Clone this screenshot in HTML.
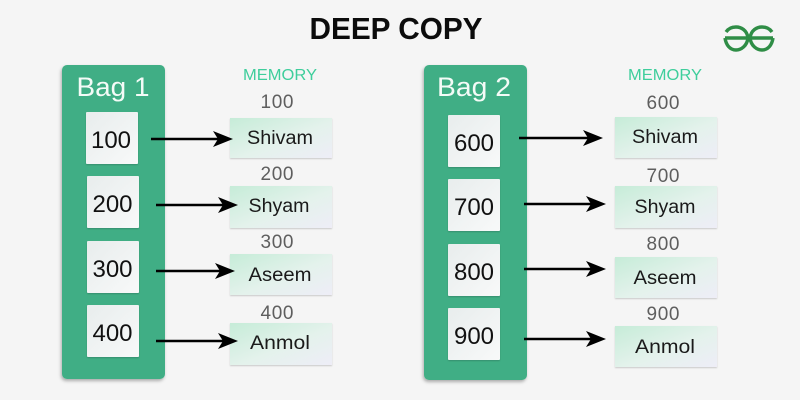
<!DOCTYPE html>
<html>
<head>
<meta charset="utf-8">
<style>
html,body{margin:0;padding:0;background:#f5f5f5;}
svg{display:block;}
text{font-family:"Liberation Sans",sans-serif;text-anchor:middle;}
.t{font-size:31px;font-weight:bold;fill:#0c0c0c;}
.bag{font-size:27px;fill:#f4fbf7;}
.mem{font-size:16px;fill:#3fce9c;}
.addr{font-size:19px;fill:#5e5e5e;}
.val{font-size:19px;fill:#1a1a1a;}
.num{font-size:24px;fill:#111;}
</style>
</head>
<body>
<svg width="800" height="400" viewBox="0 0 800 400" xmlns="http://www.w3.org/2000/svg">
<defs>
<linearGradient id="m" x1="0" y1="0" x2="1" y2="1">
<stop offset="0" stop-color="#c6ecd8"/><stop offset="0.55" stop-color="#e4f2ec"/><stop offset="1" stop-color="#eeedf7"/>
</linearGradient>
<linearGradient id="b" x1="0" y1="0" x2="1" y2="1">
<stop offset="0" stop-color="#e8eded"/><stop offset="1" stop-color="#f8f9f9"/>
</linearGradient>
<filter id="s" x="-10%" y="-10%" width="120%" height="120%"><feDropShadow dx="0" dy="1" stdDeviation="0.8" flood-color="#000" flood-opacity="0.18"/></filter>
<filter id="s2" x="-10%" y="-10%" width="120%" height="120%"><feDropShadow dx="-1" dy="2" stdDeviation="1.500" flood-color="#000" flood-opacity="0.3"/></filter>
</defs>
<rect width="800" height="400" fill="#f5f5f5"/>
<text class="t" x="396" y="39" textLength="173" lengthAdjust="spacingAndGlyphs">DEEP COPY</text>

<g fill="none" stroke="#2f8d46" stroke-width="3.4">
<path d="M725 38H748C747 30 741 27 736 27C731 27 728 29 726 32"/>
<path d="M748 38C747 46 741 50 736 50C730 50 726 45 725 38"/>
<path d="M773 38H750C751 30 757 27 762 27C767 27 770 29 772 32"/>
<path d="M750 38C751 46 757 50 762 50C768 50 772 45 773 38"/>
</g>

<rect x="62" y="65" width="103" height="314" rx="5" fill="#3fae85" filter="url(#s2)"/>
<rect x="424" y="65" width="103" height="315" rx="5" fill="#3fae85" filter="url(#s2)"/>
<text class="bag" x="113" y="96" textLength="73" lengthAdjust="spacingAndGlyphs">Bag 1</text>
<text class="bag" x="474" y="96" textLength="74" lengthAdjust="spacingAndGlyphs">Bag 2</text>

<g fill="url(#b)" filter="url(#s)">
<rect x="86" y="112" width="52" height="52" rx="1"/>
<rect x="87" y="176" width="52" height="52" rx="1"/>
<rect x="87" y="241" width="52" height="52" rx="1"/>
<rect x="87" y="305" width="52" height="52" rx="1"/>
<rect x="448" y="115" width="52" height="52" rx="1"/>
<rect x="448" y="179" width="52" height="52" rx="1"/>
<rect x="448" y="244" width="52" height="52" rx="1"/>
<rect x="448" y="308" width="52" height="52" rx="1"/>
</g>
<text class="num" x="111" y="148" textLength="40">100</text>
<text class="num" x="112.500" y="212" textLength="40">200</text>
<text class="num" x="112.500" y="277" textLength="40">300</text>
<text class="num" x="112.500" y="341" textLength="40">400</text>
<text class="num" x="474" y="151" textLength="40">600</text>
<text class="num" x="474" y="215" textLength="40">700</text>
<text class="num" x="474" y="280" textLength="40">800</text>
<text class="num" x="474" y="344" textLength="40">900</text>

<g fill="url(#m)" filter="url(#s)">
<rect x="230" y="118" width="102" height="40"/>
<rect x="230" y="186" width="102" height="42"/>
<rect x="230" y="254" width="102" height="41"/>
<rect x="230" y="323" width="102" height="42"/>
<rect x="615" y="117" width="102" height="41"/>
<rect x="615" y="186" width="102" height="42"/>
<rect x="615" y="257" width="102" height="41"/>
<rect x="615" y="326" width="102" height="41"/>
</g>

<text class="mem" x="280" y="80" textLength="74" lengthAdjust="spacingAndGlyphs">MEMORY</text>
<text class="mem" x="665" y="80" textLength="74" lengthAdjust="spacingAndGlyphs">MEMORY</text>

<text class="addr" x="277" y="108" textLength="33">100</text>
<text class="addr" x="277" y="180" textLength="33">200</text>
<text class="addr" x="277" y="248" textLength="33">300</text>
<text class="addr" x="277" y="319" textLength="33">400</text>
<text class="addr" x="663" y="109" textLength="33">600</text>
<text class="addr" x="663" y="182" textLength="33">700</text>
<text class="addr" x="663" y="250" textLength="33">800</text>
<text class="addr" x="663" y="320" textLength="33">900</text>

<text class="val" x="280" y="144" textLength="66" lengthAdjust="spacingAndGlyphs">Shivam</text>
<text class="val" x="279" y="212" textLength="61" lengthAdjust="spacingAndGlyphs">Shyam</text>
<text class="val" x="280" y="281" textLength="63" lengthAdjust="spacingAndGlyphs">Aseem</text>
<text class="val" x="280" y="349" textLength="60" lengthAdjust="spacingAndGlyphs">Anmol</text>
<text class="val" x="665" y="143" textLength="66" lengthAdjust="spacingAndGlyphs">Shivam</text>
<text class="val" x="665" y="213" textLength="61" lengthAdjust="spacingAndGlyphs">Shyam</text>
<text class="val" x="665" y="284" textLength="63" lengthAdjust="spacingAndGlyphs">Aseem</text>
<text class="val" x="665" y="353" textLength="60" lengthAdjust="spacingAndGlyphs">Anmol</text>

<g stroke="#000" stroke-width="2.400">
<line x1="151" y1="139" x2="222" y2="139"/>
<line x1="156" y1="205" x2="227" y2="205"/>
<line x1="156" y1="271" x2="224" y2="271"/>
<line x1="156" y1="341" x2="227" y2="341"/>
<line x1="519" y1="138" x2="592" y2="138"/>
<line x1="524" y1="204" x2="595" y2="204"/>
<line x1="524" y1="269" x2="595" y2="269"/>
<line x1="524" y1="339" x2="595" y2="339"/>
</g>
<g fill="#000">
<path d="M213 131L233 139L213 147L218 139Z"/>
<path d="M218 197L238 205L218 213L223 205Z"/>
<path d="M215 263L235 271L215 279L220 271Z"/>
<path d="M218 333L238 341L218 349L223 341Z"/>
<path d="M583 130L603 138L583 146L588 138Z"/>
<path d="M586 196L606 204L586 212L591 204Z"/>
<path d="M586 261L606 269L586 277L591 269Z"/>
<path d="M586 331L606 339L586 347L591 339Z"/>
</g>
</svg>
</body>
</html>
